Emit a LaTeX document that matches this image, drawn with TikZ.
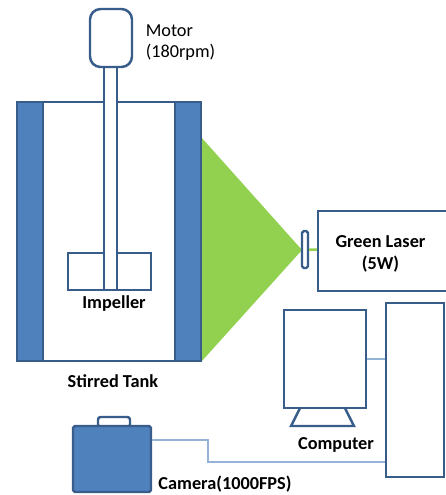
\documentclass[tikz,border=0pt]{standalone}
\usepackage{fontspec}
\setmainfont{Carlito}
\usetikzlibrary{positioning}
\definecolor{edgeblue}{RGB}{56,93,138}
\definecolor{fillblue}{RGB}{79,129,189}
\definecolor{wireblue}{RGB}{149,179,215}
\definecolor{beamgreen}{RGB}{146,208,80}
\tikzset{
	part/.style={draw=edgeblue,line width=1.4pt,fill=white,inner sep=0pt,minimum width=#1},
	solid part/.style={draw=edgeblue,line width=1.4pt,fill=fillblue,inner sep=0pt,minimum width=#1},
	wire/.style={draw=wireblue,line width=0.8pt},
	lbl/.style={font=\fontsize{10.4}{12}\selectfont,inner sep=0pt,align=center},
	bold lbl/.style={font=\fontsize{10.4}{12.4}\selectfont\bfseries,inner sep=0pt,align=center}
}
\begin{document}
\begin{tikzpicture}[x=0.02cm,y=-0.02cm]
		\useasboundingbox (0,0) rectangle (446,495);
		
		% beam
		\fill[beamgreen] (201,137) -- (302,250) -- (201,362) -- cycle;
		
		% tank
		\node[part=184*0.02cm,minimum height=259*0.02cm] (tank) at (109,231.5) {};
		\node[solid part=26*0.02cm,minimum height=259*0.02cm] (jacket-1) at (30,231.5) {};
		\node[solid part=26*0.02cm,minimum height=259*0.02cm] (jacket-2) at (188,231.5) {};
		
		% motor and impeller
		\node[part=83*0.02cm,minimum height=37*0.02cm] (impeller) at (109.5,271.5) {};
		\node[part=13*0.02cm,minimum height=223*0.02cm] (shaft) at (110.5,178.5) {};
		\node[part=42*0.02cm,minimum height=58*0.02cm,rounded corners=6pt] (motor) at (111,38) {};
		
		% laser
		\node[part=136*0.02cm,minimum height=80*0.02cm] (laser) at (386,251) {};
		\node[part=6*0.02cm,minimum height=37*0.02cm,rounded corners=1pt] (lens) at (305,249.5) {};
		\draw[beamgreen,line width=1.4pt] (lens) -- (laser);
		
		% computer
		\node[part=82*0.02cm,minimum height=98*0.02cm] (monitor) at (325,359) {};
		\node[part=58*0.02cm,minimum height=174*0.02cm] (tower) at (415,390) {};
		\coordinate (stand-1) at (300,408);
		\coordinate (stand-2) at (291,426);
		\coordinate (stand-3) at (354,426);
		\coordinate (stand-4) at (345,408);
		\draw[draw=edgeblue,line width=1.4pt] (stand-1) -- (stand-2) -- (stand-3) -- (stand-4);
		\draw[wire] (monitor.east) -- (monitor.east -| tower.west);
		
		% camera
		\node[part=32*0.02cm,minimum height=10*0.02cm,rounded corners=1.5pt] (handle) at (114,422) {};
		\node[solid part=78*0.02cm,minimum height=66*0.02cm,rounded corners=1pt] (camera) at (112,459) {};
		\coordinate (bend-1) at (208,440);
		\coordinate (bend-2) at (208,462);
		\draw[wire] (camera.east |- bend-1) -- (bend-1) -- (bend-2) -- (bend-2 -| tower.west);
		
		% labels
		\node[lbl,align=left] (motor-text) at (180.5,42.5) {Motor\\(180rpm)};
		\node[bold lbl] (impeller-text) at (114,304) {Impeller};
		\node[bold lbl] (tank-text) at (113,381) {Stirred Tank};
		\node[bold lbl] (laser-text) at (380.5,254) {Green Laser\\(5W)};
		\node[bold lbl] (computer-text) at (336,445) {Computer};
		\node[bold lbl] (camera-text) at (225,484) {Camera(1000FPS)};
		
\end{tikzpicture}
\end{document}
